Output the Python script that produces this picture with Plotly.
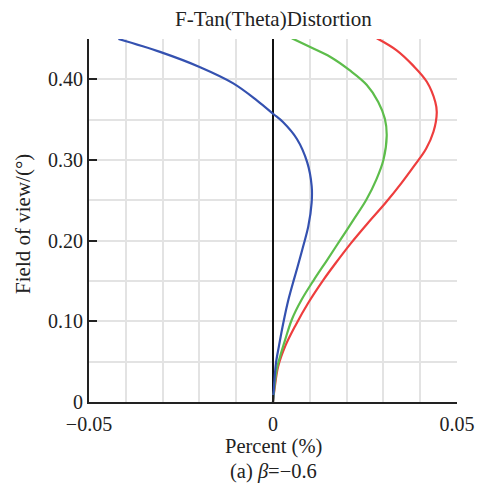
import plotly.graph_objects as go

blue_fov = [0, 0.027, 0.048, 0.069, 0.098, 0.127, 0.152, 0.168, 0.193, 0.218, 0.247,
            0.268, 0.297, 0.326, 0.347, 0.357, 0.374, 0.395, 0.415, 0.434, 0.45]
blue_pct = [0, 0.0004, 0.0008, 0.0016, 0.0028, 0.0042, 0.0057, 0.0067, 0.0082, 0.0096, 0.0105,
            0.0105, 0.0093, 0.0065, 0.0027, 0.0001, -0.0044, -0.0108, -0.0198, -0.0307, -0.042]

green_fov = [0, 0.04, 0.056, 0.077, 0.102, 0.127, 0.152, 0.176, 0.201, 0.226, 0.251,
             0.276, 0.30, 0.33, 0.351, 0.372, 0.393, 0.411, 0.428, 0.44, 0.451]
green_pct = [0, 0.001, 0.0019, 0.0033, 0.0051, 0.0078, 0.0112, 0.0147, 0.0183, 0.0219, 0.0254,
             0.0281, 0.0300, 0.0309, 0.0304, 0.0286, 0.0255, 0.0209, 0.0155, 0.0101, 0.0051]

red_fov = [0, 0.019, 0.044, 0.069, 0.094, 0.123, 0.152, 0.172, 0.197, 0.222, 0.247,
           0.272, 0.293, 0.314, 0.335, 0.359, 0.372, 0.397, 0.417, 0.436, 0.451]
red_pct = [0, 0.0005, 0.0014, 0.0033, 0.006, 0.0096, 0.0138, 0.0170, 0.0212, 0.0258, 0.0306,
           0.0350, 0.0384, 0.0416, 0.0436, 0.0445, 0.0441, 0.0418, 0.0381, 0.0336, 0.0282]

x_tickvals = [-0.05, 0, 0.05]
x_ticktext = ["\u22120.05", "0", "0.05"]
y_tickvals = [0, 0.1, 0.2, 0.3, 0.4]
y_ticktext = ["0", "0.10", "0.20", "0.30", "0.40"]

FONT = "Liberation Serif, Times New Roman, serif"
GRID = "#e3e3e3"
TXT = "#222"

fig = go.Figure()
for xs, ys, col in [(red_pct, red_fov, "#ee3d3d"),
                    (green_pct, green_fov, "#5dbd4b"),
                    (blue_pct, blue_fov, "#3451b0")]:
    fig.add_trace(go.Scatter(x=xs, y=ys, mode="lines",
                             line=dict(color=col, width=2.2, shape="spline", smoothing=1.0),
                             showlegend=False, hoverinfo="skip"))

fig.update_layout(
    width=481, height=484,
    margin=dict(l=89, r=24, t=39, b=82),
    paper_bgcolor="white", plot_bgcolor="white",
    font=dict(family=FONT, size=20, color=TXT),
    xaxis=dict(range=[-0.05, 0.05], tickvals=x_tickvals, ticktext=x_ticktext,
               automargin=False,
               showgrid=True, gridcolor=GRID, gridwidth=2,
               minor=dict(dtick=0.01, showgrid=True, gridcolor=GRID, gridwidth=2),
               zeroline=True, zerolinecolor="#111", zerolinewidth=2,
               showline=True, linecolor=TXT, linewidth=2, mirror=False,
               ticks="inside", ticklen=7, tickcolor=TXT, tickwidth=1.5,
               ticklabelstandoff=3,
               tickfont=dict(family=FONT, size=20, color=TXT)),
    yaxis=dict(range=[0, 0.45], tickvals=y_tickvals, ticktext=y_ticktext,
               automargin=False,
               showgrid=True, gridcolor=GRID, gridwidth=2,
               minor=dict(dtick=0.05, showgrid=True, gridcolor=GRID, gridwidth=2),
               zeroline=False,
               showline=True, linecolor=TXT, linewidth=2,
               ticks="inside", ticklen=8, tickcolor=TXT, tickwidth=1.5,
               ticklabelstandoff=0,
               tickfont=dict(family=FONT, size=20, color=TXT)),
    annotations=[
        dict(text="F-Tan(Theta)Distortion", x=0.5, y=1.055, xref="paper", yref="paper",
             showarrow=False, xanchor="center", yanchor="middle",
             font=dict(family=FONT, size=21, color=TXT)),
        dict(text="Field of view/(°)", x=-0.18, y=0.49, xref="paper", yref="paper",
             showarrow=False, xanchor="center", yanchor="middle", textangle=-90,
             font=dict(family=FONT, size=21, color=TXT)),
        dict(text="Percent (%)", x=0.5, y=-0.123, xref="paper", yref="paper",
             showarrow=False, xanchor="center", yanchor="middle",
             font=dict(family=FONT, size=20.5, color=TXT)),
        dict(text="(a) <i>β</i>=\u22120.6", x=0.5, y=-0.192, xref="paper", yref="paper",
             showarrow=False, xanchor="center", yanchor="middle",
             font=dict(family=FONT, size=20.5, color=TXT)),
    ],
)

fig.write_html("out.html")
